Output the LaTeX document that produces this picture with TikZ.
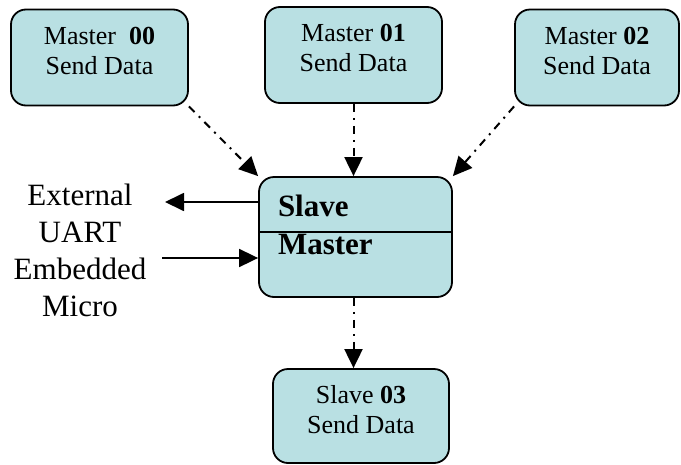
\documentclass[tikz,border=0pt]{standalone}
\usepackage{fontspec}
\setmainfont{Liberation Serif}
\usetikzlibrary{arrows.meta}
\definecolor{boxfill}{RGB}{185,224,227}
\begin{document}
\begin{tikzpicture}[x=1pt,y=-1pt,
    box/.style={draw,line width=1.8pt,rounded corners=15pt,fill=boxfill,minimum width=177pt,minimum height=96pt,align=center,font=\fontsize{26}{30}\selectfont,text depth=14pt},
    flow/.style={line width=2pt,dash pattern=on 8pt off 6pt on 2pt off 6pt,-{Triangle[length=19pt,width=18pt]}},
    link/.style={line width=1.8pt,-{Triangle[length=19pt,width=18pt]}}]
    \useasboundingbox (0,0) rectangle (681,464);

    \node[box] (m00) at (99.5,57.5) {Master \ \textbf{00}\\Send Data};
    \node[box] (m01) at (353.5,55) {Master \textbf{01}\\Send Data};
    \node[box,minimum width=164pt] (m02) at (597,57.5) {Master \textbf{02}\\Send Data};
    \node[box,minimum width=193pt,minimum height=120pt,text width=155pt,align=left,font=\fontsize{31}{38}\selectfont\bfseries,text depth=62pt] (sm) at (355.5,237) {Slave\\Master};
    \node[box,minimum width=176pt,minimum height=94pt] (s03) at (361,416) {Slave \textbf{03}\\Send Data};
    \draw[line width=1.8pt] (sm.west |- 0,232) -- (sm.east |- 0,232);

    \node[align=center,font=\fontsize{31}{37}\selectfont] (ext) at (80,250) {External\\UART\\Embedded\\Micro};
    \coordinate (out) at (165,202);
    \coordinate (in) at (162,258);

    \draw[flow] (m00.south east) -- (sm.north west);
    \draw[flow] (m01.south) -- (m01.south |- sm.north);
    \draw[flow] (m02.south west) -- (sm.north east);
    \draw[flow] (m01.south |- sm.south) -- (m01.south |- s03.north);

    \draw[link] (sm.west |- out) -- (out);
    \draw[link] (in) -- (sm.west |- in);
\end{tikzpicture}
\end{document}
